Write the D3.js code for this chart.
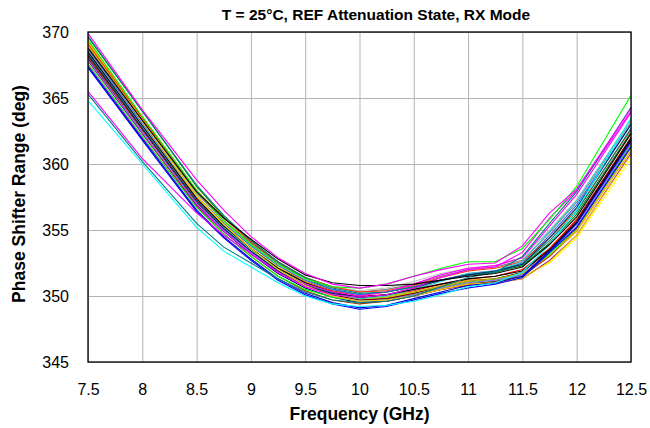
<!DOCTYPE html>
<html lang="en">
<head>
<meta charset="UTF-8">
<script src="https://d3js.org/d3.v7.min.js"></script>
<style>
    body { margin: 0; background: #fff; }
    svg { font-family: "Liberation Sans", Arial, sans-serif; }
</style>
</head>
<body>
<div id="svg"></div>
<script>
    // ---------------- data ----------------
    const freqs = [7.5, 8, 8.5, 8.75, 9, 9.25, 9.5, 9.75, 10, 10.25, 10.5, 10.75, 11, 11.25, 11.5, 11.75, 12, 12.5];
    const xTicks = [7.5, 8, 8.5, 9, 9.5, 10, 10.5, 11, 11.5, 12, 12.5];
    const yTicks = [345, 350, 355, 360, 365, 370];

    const seriesColors = [
        "#FFFF00", "#FF0000", "#008000", "#000080", "#FF9900", "#800080", "#808080",
        "#C0C0C0", "#800000", "#993300", "#3366FF", "#99CC00", "#FF3300", "#33CCCC",
        "#000000", "#FF00FF", "#00FF00", "#008080", "#9966FF", "#003366", "#FFCC00",
        "#0000CC", "#0000FF", "#FF00FF", "#00FFFF", "#008080", "#00FF00", "#000000", "#FF00FF"
    ];

    const seriesValues = [
        [369.2, 363.5, 357.9, 355.6, 353.8, 352.2, 351.0, 350.2, 349.8, 349.9, 350.2, 350.6, 351.0, 351.1, 351.5, 352.5, 354.4, 360.4],
        [368.3, 362.7, 357.3, 355.3, 353.6, 352.1, 351.1, 350.4, 350.0, 350.1, 350.4, 350.9, 351.3, 351.5, 352.0, 353.6, 355.8, 362.0],
        [369.6, 364.0, 358.3, 356.0, 354.1, 352.5, 351.3, 350.5, 350.1, 350.3, 350.7, 351.2, 351.6, 351.8, 352.3, 354.0, 356.2, 362.4],
        [368.0, 362.4, 356.9, 354.9, 353.2, 351.7, 350.6, 349.9, 349.5, 349.6, 350.0, 350.5, 350.9, 351.1, 351.6, 353.4, 355.5, 361.8],
        [369.3, 363.6, 357.9, 355.7, 353.9, 352.3, 351.1, 350.3, 349.9, 350.0, 350.3, 350.8, 351.2, 351.3, 351.7, 353.0, 354.9, 361.0],
        [367.8, 362.3, 356.9, 355.0, 353.4, 351.9, 350.8, 350.1, 349.7, 349.8, 350.1, 350.5, 350.8, 351.0, 351.3, 352.7, 354.6, 360.8],
        [368.9, 363.3, 357.8, 355.7, 354.0, 352.5, 351.4, 350.7, 350.3, 350.5, 350.9, 351.5, 352.0, 352.2, 352.7, 354.8, 357.1, 363.2],
        [368.6, 363.0, 357.5, 355.5, 353.8, 352.3, 351.3, 350.7, 350.4, 350.6, 351.1, 351.7, 352.1, 352.3, 352.9, 355.0, 357.3, 363.3],
        [368.2, 362.6, 357.1, 355.1, 353.4, 351.9, 350.8, 350.1, 349.7, 349.8, 350.2, 350.7, 351.1, 351.3, 351.8, 353.5, 355.7, 362.0],
        [368.1, 362.4, 356.8, 354.7, 353.0, 351.5, 350.4, 349.7, 349.4, 349.6, 350.0, 350.5, 350.9, 351.1, 351.5, 353.0, 355.1, 361.5],
        [368.7, 363.1, 357.6, 355.5, 353.8, 352.3, 351.2, 350.5, 350.1, 350.3, 350.7, 351.2, 351.7, 351.9, 352.5, 354.6, 356.9, 363.0],
        [369.0, 363.3, 357.6, 355.4, 353.6, 352.1, 351.0, 350.2, 349.8, 349.9, 350.3, 350.7, 351.1, 351.3, 351.7, 353.1, 355.0, 361.2],
        [369.1, 363.5, 358.0, 355.9, 354.1, 352.6, 351.4, 350.7, 350.3, 350.4, 350.8, 351.4, 351.9, 352.1, 352.6, 354.4, 356.5, 362.6],
        [368.4, 362.8, 357.2, 355.2, 353.5, 352.0, 350.9, 350.2, 349.8, 350.0, 350.5, 351.1, 351.7, 351.9, 352.6, 354.9, 357.2, 363.4],
        [368.5, 362.9, 357.4, 355.3, 353.6, 352.1, 351.0, 350.3, 349.9, 350.1, 350.5, 350.9, 351.3, 351.5, 351.9, 353.5, 355.6, 361.9],
        [367.5, 362.0, 356.8, 354.9, 353.3, 351.9, 350.9, 350.3, 350.0, 350.3, 350.9, 351.6, 352.1, 352.3, 352.9, 355.3, 357.7, 363.9],
        [367.6, 362.1, 356.7, 354.7, 353.0, 351.5, 350.5, 349.9, 349.6, 349.7, 350.1, 350.6, 351.0, 351.2, 351.6, 353.2, 355.2, 361.5],
        [369.7, 364.0, 358.4, 356.1, 354.2, 352.6, 351.4, 350.6, 350.2, 350.3, 350.7, 351.2, 351.6, 351.8, 352.4, 354.2, 356.4, 362.7],
        [367.9, 362.4, 357.0, 355.0, 353.3, 351.8, 350.7, 350.0, 349.6, 349.7, 350.1, 350.6, 351.0, 351.2, 351.6, 353.3, 355.3, 361.6],
        [368.3, 362.7, 357.2, 355.1, 353.4, 351.9, 350.8, 350.2, 349.9, 350.1, 350.6, 351.2, 351.6, 351.9, 352.4, 354.4, 356.7, 363.0],
        [368.9, 363.2, 357.6, 355.4, 353.6, 352.0, 350.8, 350.0, 349.6, 349.7, 350.0, 350.5, 350.9, 351.0, 351.3, 352.6, 354.6, 360.7],
        [367.4, 361.9, 356.5, 354.5, 352.8, 351.3, 350.2, 349.5, 349.1, 349.3, 349.8, 350.3, 350.8, 351.0, 351.5, 353.4, 355.5, 361.7],
        [367.3, 361.8, 356.4, 354.4, 352.7, 351.2, 350.1, 349.4, 349.0, 349.2, 349.7, 350.2, 350.6, 350.9, 351.4, 353.3, 355.2, 361.3],
        [365.5, 360.4, 356.3, 354.6, 353.2, 351.8, 350.7, 350.1, 349.9, 350.1, 350.6, 351.4, 352.0, 352.2, 353.3, 355.9, 358.0, 364.0],
        [364.8, 360.0, 355.2, 353.4, 352.2, 351.0, 350.0, 349.4, 349.2, 349.3, 349.6, 350.1, 350.7, 351.0, 351.8, 353.9, 356.5, 363.5],
        [365.3, 360.2, 355.5, 353.7, 352.5, 351.3, 350.3, 349.7, 349.5, 349.6, 350.0, 350.7, 351.4, 351.8, 353.0, 355.5, 357.9, 364.3],
        [369.4, 363.6, 358.0, 355.7, 353.9, 352.4, 351.3, 350.7, 350.6, 350.9, 351.5, 352.1, 352.6, 352.6, 353.6, 355.8, 358.3, 365.2],
        [368.8, 363.3, 357.9, 355.9, 354.3, 352.8, 351.6, 351.0, 350.8, 350.8, 350.9, 351.2, 351.5, 351.7, 352.2, 353.9, 356.0, 362.3],
        [369.9, 364.1, 358.8, 356.5, 354.5, 352.9, 351.7, 350.9, 350.6, 350.9, 351.5, 352.0, 352.4, 352.5, 353.8, 356.3, 358.1, 364.2]
    ];

    // ---------------- layout ----------------
    const width = 650, height = 428;
    const margin = { top: 32, right: 19, bottom: 66, left: 88 };
    const plotW = width - margin.left - margin.right;
    const plotH = height - margin.top - margin.bottom;

    const svg = d3.select("#svg").append("svg")
        .attr("width", width)
        .attr("height", height);

    const x = d3.scaleLinear().domain([7.5, 12.5]).range([0, plotW]);
    const y = d3.scaleLinear().domain([345, 370]).range([plotH, 0]);

    const g = svg.append("g").attr("transform", `translate(${margin.left},${margin.top})`);

    // grid
    g.append("g")
        .attr("transform", `translate(0,${plotH})`)
        .call(d3.axisBottom(x).tickValues(xTicks).tickSize(-plotH).tickFormat(""))
        .call(s => s.select(".domain").remove())
        .selectAll("line").attr("stroke", "#b3b3b3").attr("stroke-width", 1);

    g.append("g")
        .call(d3.axisLeft(y).tickValues(yTicks).tickSize(-plotW).tickFormat(""))
        .call(s => s.select(".domain").remove())
        .selectAll("line").attr("stroke", "#b3b3b3").attr("stroke-width", 1);

    // lines
    const line = d3.line()
        .x((d, i) => x(freqs[i]))
        .y(d => y(d));

    g.append("g").selectAll("path")
        .data(seriesValues)
        .enter()
        .append("path")
        .attr("d", d => line(d))
        .attr("fill", "none")
        .attr("stroke", (d, i) => seriesColors[i])
        .attr("stroke-width", 1.1);

    // border
    g.append("rect")
        .attr("width", plotW)
        .attr("height", plotH)
        .attr("fill", "none")
        .attr("stroke", "#000")
        .attr("stroke-width", 1.3);

    // tick labels
    const xAxis = g.append("g")
        .attr("transform", `translate(0,${plotH})`)
        .call(d3.axisBottom(x).tickValues(xTicks).tickSize(0).tickPadding(22).tickFormat(d => d));
    xAxis.select(".domain").remove();
    xAxis.selectAll("text").attr("font-size", 16).attr("fill", "#000")
        .attr("font-family", "Liberation Sans, Arial, sans-serif");

    const yAxis = g.append("g")
        .call(d3.axisLeft(y).tickValues(yTicks).tickSize(0).tickPadding(19));
    yAxis.select(".domain").remove();
    yAxis.selectAll("text").attr("font-size", 16).attr("fill", "#000")
        .attr("font-family", "Liberation Sans, Arial, sans-serif");

    // titles
    svg.append("text")
        .attr("x", 376)
        .attr("y", 20)
        .attr("text-anchor", "middle")
        .attr("font-size", 15.5)
        .attr("font-weight", "bold")
        .text("T = 25°C, REF Attenuation State, RX Mode");

    svg.append("text")
        .attr("x", margin.left + plotW / 2)
        .attr("y", 420)
        .attr("text-anchor", "middle")
        .attr("font-size", 17.5)
        .attr("font-weight", "bold")
        .text("Frequency (GHz)");

    svg.append("text")
        .attr("transform", `translate(25,${margin.top + plotH / 2 - 3}) rotate(-90)`)
        .attr("text-anchor", "middle")
        .attr("font-size", 17.5)
        .attr("font-weight", "bold")
        .text("Phase Shifter Range (deg)");
</script>
</body>
</html>
